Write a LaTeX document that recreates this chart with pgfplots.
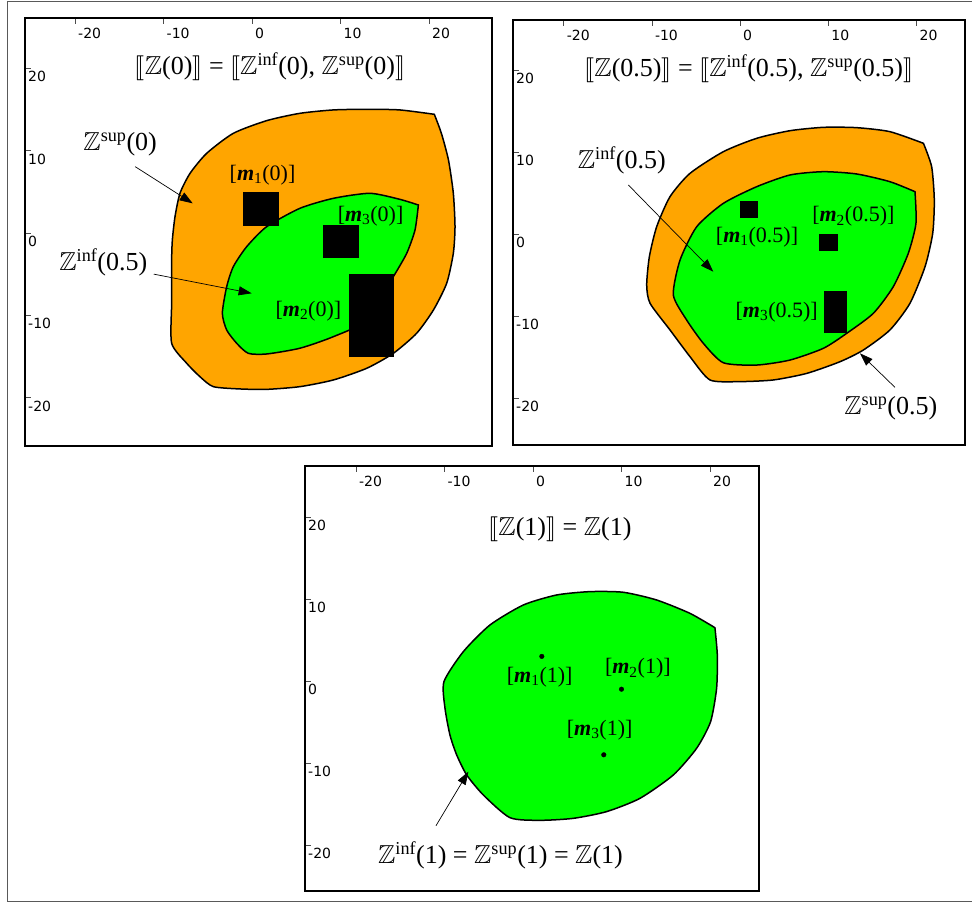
\documentclass[border=0pt]{standalone}
\usepackage{amssymb}
\usepackage{stmaryrd}
\usepackage{fontspec}
\setmainfont{Liberation Serif}
\setsansfont{Liberation Sans}
\newfontfamily\tickfont{DejaVu Sans}
\usepackage{pgfplots}
\pgfplotsset{compat=1.18}
\usetikzlibrary{arrows.meta}

\definecolor{zorange}{RGB}{255,165,0}
\definecolor{zgreen}{RGB}{0,255,0}

\newcommand{\Z}{\ensuremath{\mathbb{Z}}}
\newcommand{\lb}{\ensuremath{\llbracket}}
\newcommand{\rb}{\ensuremath{\rrbracket}}
\newcommand{\mm}[2]{[\textbf{\textit{m}}\textsubscript{#1}(#2)]}
\newcommand{\ticksf}{\tickfont\fontsize{14}{15}\selectfont}
\newcommand{\lblfont}{\fontsize{26}{30}\selectfont}
\newcommand{\mfont}{\fontsize{22}{26}\selectfont}

\pgfplotsset{
  panel/.style={
    scale only axis,
    axis line style={line width=2pt},
    xtick={-20,-10,0,10,20}, xticklabels={-20,-10,0,10,20},
    ytick={-20,-10,0,10,20}, yticklabels={-20,-10,0,10,20},
    xtick pos=upper, xticklabel pos=upper,
    ytick pos=left, yticklabel pos=left,
    tick align=inside, major tick length=6pt,
    tick style={black!70, line width=0.6pt},
    xticklabel style={anchor=north west, inner sep=0pt, xshift=3pt, yshift=-10pt, font=\ticksf},
    yticklabel style={anchor=north west, inner sep=0pt, xshift=3pt, yshift=-3pt, font=\ticksf},
    clip=false,
  },
}
\tikzset{
  lbl/.style={font=\lblfont, inner sep=0pt},
  mlbl/.style={font=\mfont, inner sep=0pt},
  arr/.style={-{Triangle[length=13pt,width=9pt]}, line width=0.7pt},
  zone/.style={draw=black, line width=1.5pt, smooth, tension=0.4},
}

\begin{document}
\begin{tikzpicture}
\useasboundingbox (0pt,0pt) rectangle (972pt,903pt);
\draw[black!65, line width=1pt] (975pt,901.5pt) -- (7pt,901.5pt) -- (7pt,2pt) -- (975pt,2pt);

% t = 0
\begin{axis}[panel, at={(25pt,457pt)}, anchor=south west, width=467pt, height=428pt,
  xmin=-25.65, xmax=27.12, ymin=-25.88, ymax=26.12]
\addplot[zone, fill=zorange] coordinates {
  (20.6,14.42) (16.7,14.95) (12.96,15.03) (9.19,14.95) (5.42,14.54) (1.66,13.65)
  (-2.11,12.11) (-5.12,9.68) (-7.0,7.25) (-8.14,4.82) (-8.7,1.98) (-9.0,-0.85)
  (-9.08,-3.28) (-9.08,-8.5) (-9.08,-13.4) (-7.38,-15.83) (-5.88,-17.46) (-4.37,-18.67)
  (-1.36,-18.95) (1.66,-19.0) (5.42,-18.67) (9.19,-17.86) (12.96,-16.44)
  (15.97,-14.62) (18.6,-12.19) (20.5,-9.36) (22.0,-6.11) (22.75,-2.47)
  (22.94,0.77) (22.75,4.82) (22.2,8.87) (21.4,12.11) (20.6,14.42)
} --cycle;
\addplot[zone, fill=zgreen] coordinates {
  (18.8,3.40) (16.7,4.09) (13.33,4.82) (9.19,4.21) (5.42,3.0) (1.66,0.77)
  (-0.6,-1.66) (-2.11,-4.09) (-2.86,-6.52) (-3.35,-9.76) (-2.86,-11.79)
  (-1.73,-13.4) (-0.42,-14.62) (1.66,-14.7) (5.42,-14.0) (9.19,-12.6)
  (12.96,-10.57) (15.97,-5.31) (17.48,-2.47) (18.42,0.36) (18.8,3.40)
} --cycle;
\addplot[fill=black, draw=black] coordinates {(-1,1) (3,1) (3,5) (-1,5)} --cycle;
\addplot[fill=black, draw=black] coordinates {(8,-3) (12,-3) (12,1) (8,1)} --cycle;
\addplot[fill=black, draw=black] coordinates {(11,-15) (16,-15) (16,-5) (11,-5)} --cycle;
\node[lbl] at (axis cs:2.03,20.2) {\lb\Z(0)\rb{} = \lb\Z\textsuperscript{inf}(0), \Z\textsuperscript{sup}(0)\rb};
\node[lbl] at (axis cs:-14.9,10.8) {\Z\textsuperscript{sup}(0)};
\node[lbl] at (axis cs:-16.8,-3.6) {\Z\textsuperscript{inf}(0.5)};
\node[mlbl] at (axis cs:1.19,7.05) {\mm{1}{0}};
\node[mlbl] at (axis cs:13.4,2.09) {\mm{3}{0}};
\node[mlbl] at (axis cs:6.37,-9.46) {\mm{2}{0}};
\draw[arr] (axis cs:-13.2,8.06) -- (axis cs:-6.7,3.6);
\draw[arr] (axis cs:-11.1,-5.0) -- (axis cs:-0.04,-7.33);
\end{axis}

% t = 0.5
\begin{axis}[panel, at={(513pt,458pt)}, anchor=south west, width=452pt, height=425pt,
  xmin=-25.74, xmax=25.51, ymin=-25.73, ymax=26.1]
\addplot[zone, fill=zorange] coordinates {
  (20.8,11.06) (17.0,12.48) (13.23,12.97) (9.45,13.01) (5.67,12.6) (1.89,11.67)
  (-1.89,10.04) (-5.67,7.4) (-7.94,4.55) (-9.45,0.89) (-10.28,-2.77)
  (-10.58,-6.22) (-10.2,-8.45) (-7.94,-11.7) (-5.67,-14.96) (-3.4,-17.8)
  (0,-18.0) (3.78,-17.8) (7.56,-17.0) (11.34,-15.57) (13.98,-14.15)
  (17.0,-11.7) (19.27,-8.45) (20.98,-3.98) (21.85,0.08) (22.03,4.15) (21.73,8.2)
  (20.8,11.06)
} --cycle;
\addplot[zone, fill=zgreen] coordinates {
  (19.84,5.16) (17.0,6.38) (13.23,7.32) (9.45,7.6) (5.67,7.2) (1.89,5.77)
  (-1.89,3.74) (-4.91,0.89) (-6.8,-3.17) (-7.56,-7.44) (-6.05,-10.49)
  (-4.16,-13.33) (-1.89,-15.7) (1.89,-15.98) (5.67,-15.37) (9.45,-13.94)
  (12.1,-12.11) (15.12,-9.67) (17.38,-6.42) (19.08,-2.36) (19.95,1.3)
  (19.84,5.16)
} --cycle;
\addplot[fill=black, draw=black] coordinates {(0,2) (2,2) (2,4) (0,4)} --cycle;
\addplot[fill=black, draw=black] coordinates {(9,-2) (11,-2) (11,0) (9,0)} --cycle;
\addplot[fill=black, draw=black] coordinates {(9.5,-12) (12,-12) (12,-7) (9.5,-7)} --cycle;
\node[lbl] at (axis cs:0.99,20.2) {\lb\Z(0.5)\rb{} = \lb\Z\textsuperscript{inf}(0.5), \Z\textsuperscript{sup}(0.5)\rb};
\node[lbl] at (axis cs:-13.4,9.02) {\Z\textsuperscript{inf}(0.5)};
\node[lbl] at (axis cs:17.1,-21.3) {\Z\textsuperscript{sup}(0.5)};
\node[mlbl] at (axis cs:1.93,-0.33) {\mm{1}{0.5}};
\node[mlbl] at (axis cs:12.85,2.11) {\mm{2}{0.5}};
\node[mlbl] at (axis cs:4.16,-9.57) {\mm{3}{0.5}};
\draw[arr] (axis cs:-12.66,5.98) -- (axis cs:-3.03,-4.6);
\draw[arr] (axis cs:17.57,-18.7) -- (axis cs:13.6,-14.55);
\end{axis}

% t = 1
\begin{axis}[panel, at={(305pt,12pt)}, anchor=south west, width=454pt, height=425pt,
  xmin=-25.76, xmax=25.54, ymin=-25.61, ymax=26.22]
\addplot[zone, fill=zgreen] coordinates {
  (20.56,6.5) (17.74,8.25) (13.97,9.88) (10.21,10.82) (6.44,10.9) (2.67,10.49)
  (-1.09,9.27) (-4.86,6.83) (-7.87,3.58) (-10.06,-0.08) (-9.94,-3.33)
  (-9.38,-6.59) (-8.62,-9.02) (-7.49,-11.46) (-5.61,-13.9) (-2.6,-16.67)
  (0.79,-16.99) (4.56,-16.75) (8.32,-15.93) (12.09,-14.31) (15.86,-11.46)
  (18.49,-8.21) (20.07,-4.96) (20.75,-0.89) (20.83,3.17) (20.56,6.5)
} --cycle;
\addplot[only marks, mark=*, mark size=2.3pt, black] coordinates {(1,3) (10,-1) (8,-9)};
\node[lbl] at (axis cs:3.05,18.5) {\lb\Z(1)\rb{} = \Z(1)};
\node[lbl] at (axis cs:-3.67,-21.3) {\Z\textsuperscript{inf}(1) = \Z\textsuperscript{sup}(1) = \Z(1)};
\node[mlbl] at (axis cs:0.76,0.43) {\mm{1}{1}};
\node[mlbl] at (axis cs:11.85,1.5) {\mm{2}{1}};
\node[mlbl] at (axis cs:7.53,-6.04) {\mm{3}{1}};
\draw[arr] (axis cs:-10.96,-17.65) -- (axis cs:-7.3,-11.06);
\end{axis}
\end{tikzpicture}
\end{document}
